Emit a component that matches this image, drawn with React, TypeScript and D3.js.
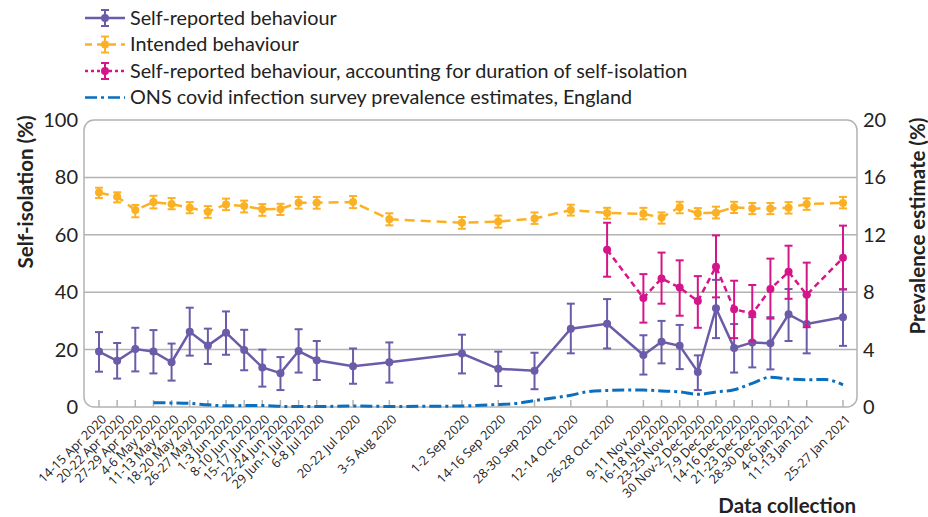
import React from 'react';
import * as d3 from 'd3';

// survey waves (first day of each collection window)
const waveLabels = [
  '14-15 Apr 2020', '20-22 Apr 2020', '27-29 Apr 2020', '4-6 May 2020', '11-13 May 2020',
  '18-20 May 2020', '26-27 May 2020', '1-3 Jun 2020', '8-10 Jun 2020', '15-17 Jun 2020',
  '22-24 Jun 2020', '29 Jun-1 Jul 2020', '6-8 Jul 2020', '20-22 Jul 2020', '3-5 Aug 2020',
  '1-2 Sep 2020', '14-16 Sep 2020', '28-30 Sep 2020', '12-14 Oct 2020', '26-28 Oct 2020',
  '9-11 Nov 2020', '16-18 Nov 2020', '23-25 Nov 2020', '30 Nov-2 Dec 2020', '7-9 Dec 2020',
  '14-16 Dec 2020', '21-23 Dec 2020', '28-30 Dec 2020', '4-6 Jan 2021', '11-13 Jan 2021',
  '25-27 Jan 2021',
];
const waveStart = [
  '2020-04-14', '2020-04-20', '2020-04-27', '2020-05-04', '2020-05-11', '2020-05-18',
  '2020-05-26', '2020-06-01', '2020-06-08', '2020-06-15', '2020-06-22', '2020-06-29',
  '2020-07-06', '2020-07-20', '2020-08-03', '2020-09-01', '2020-09-14', '2020-09-28',
  '2020-10-12', '2020-10-26', '2020-11-09', '2020-11-16', '2020-11-23', '2020-11-30',
  '2020-12-07', '2020-12-14', '2020-12-21', '2020-12-28', '2021-01-04', '2021-01-11',
  '2021-01-25',
];

const selfReported = [19.3, 16.1, 20.2, 19.3, 15.6, 26.2, 21.4, 25.9, 19.9, 13.8, 11.8, 19.5, 16.3, 14.2, 15.6, 18.6, 13.3, 12.6, 27.3, 29.0, 18.1, 22.7, 21.3, 12.2, 34.4, 20.6, 22.5, 22.2, 32.3, 28.9, 31.3];
const selfLow = [12.3, 9.9, 12.4, 11.7, 9.2, 17.9, 15.0, 18.2, 12.8, 7.1, 5.9, 12.0, 9.4, 8.1, 8.5, 11.7, 7.3, 6.2, 18.7, 20.4, 11.3, 15.2, 13.2, 5.9, 24.0, 12.0, 13.8, 13.1, 23.0, 18.7, 21.3];
const selfHigh = [26.1, 22.3, 27.6, 26.8, 22.1, 34.6, 27.3, 33.3, 26.9, 20.0, 17.4, 27.1, 23.0, 20.4, 22.5, 25.2, 19.3, 18.9, 36.0, 37.6, 25.0, 30.0, 28.6, 18.0, 44.3, 28.9, 31.3, 31.3, 41.1, 39.0, 41.0];

const intended = [74.7, 73.3, 68.6, 71.4, 70.7, 69.4, 68.0, 70.6, 70.0, 68.9, 69.0, 71.2, 71.2, 71.4, 65.4, 64.2, 64.6, 65.7, 68.6, 67.6, 67.3, 66.0, 69.6, 67.5, 67.7, 69.6, 69.2, 69.2, 69.4, 70.7, 71.1];
const intendedLow = [72.8, 71.3, 66.1, 69.2, 68.9, 67.5, 65.9, 68.6, 67.8, 66.6, 66.9, 69.1, 69.1, 69.3, 63.3, 62.1, 62.5, 63.8, 66.7, 65.6, 65.4, 63.9, 67.5, 65.6, 65.7, 67.6, 67.2, 67.2, 67.4, 68.7, 69.2];
const intendedHigh = [76.4, 74.8, 70.4, 73.6, 72.8, 71.4, 70.0, 72.6, 71.9, 70.7, 70.8, 73.2, 73.2, 73.5, 67.5, 66.2, 66.7, 67.8, 70.5, 69.4, 69.4, 67.8, 71.5, 69.3, 69.8, 71.5, 71.1, 71.1, 71.4, 72.7, 73.2];

// only measured from late October
const N = null;
const duration = [N, N, N, N, N, N, N, N, N, N, N, N, N, N, N, N, N, N, N, 54.8, 38.0, 44.8, 41.6, 36.9, 48.9, 34.1, 32.5, 41.1, 47.1, 39.1, 52.0];
const durationLow = [N, N, N, N, N, N, N, N, N, N, N, N, N, N, N, N, N, N, N, 45.4, 29.4, 36.0, 31.8, 27.6, 38.2, 24.0, 22.9, 30.8, 37.7, 27.8, 41.0];
const durationHigh = [N, N, N, N, N, N, N, N, N, N, N, N, N, N, N, N, N, N, N, 64.2, 46.3, 53.8, 51.1, 45.6, 59.8, 44.0, 42.5, 51.7, 56.2, 50.3, 63.2];

// ONS prevalence (%), weekly
const onsWeek = [
  '2020-05-04', '2020-05-11', '2020-05-18', '2020-05-25', '2020-06-01', '2020-06-08', '2020-06-15',
  '2020-06-22', '2020-06-29', '2020-07-06', '2020-07-20', '2020-08-03', '2020-08-17', '2020-08-31',
  '2020-09-14', '2020-09-21', '2020-09-28', '2020-10-05', '2020-10-12', '2020-10-19', '2020-10-26',
  '2020-11-02', '2020-11-09', '2020-11-16', '2020-11-23', '2020-11-30', '2020-12-07', '2020-12-14',
  '2020-12-21', '2020-12-28', '2021-01-04', '2021-01-11', '2021-01-18', '2021-01-25',
];
const onsPrevalence = [0.30, 0.28, 0.25, 0.15, 0.08, 0.10, 0.10, 0.05, 0.03, 0.03, 0.07, 0.04, 0.05, 0.07, 0.18, 0.25, 0.45, 0.62, 0.82, 1.08, 1.15, 1.18, 1.18, 1.12, 1.05, 0.88, 1.05, 1.20, 1.65, 2.08, 1.95, 1.90, 1.92, 1.55];

const leftTicks = [0, 20, 40, 60, 80, 100];
const rightTicks = [0, 4, 8, 12, 16, 20];

const PURPLE = '#6b5ba9';
const ORANGE = '#fbb123';
const MAGENTA = '#d5168b';
const BLUE = '#0b6fbd';
const GRID = '#b3b3b3';
const FONT = 'Lato, "Open Sans", sans-serif';

const parse = d3.timeParse('%Y-%m-%d');
const week = (s: string) => d3.timeMonday.floor(parse(s) as Date);

const frame = { left: 84, right: 857, top: 120, bottom: 407 };

const x = d3.scaleTime()
  .domain([week(waveStart[0]), week(waveStart[waveStart.length - 1])])
  .range([99, 843]);
const y = d3.scaleLinear().domain([0, 100]).range([frame.bottom, frame.top]);
const yRight = d3.scaleLinear().domain([0, 20]).range([frame.bottom, frame.top]);

type Series = {
  values: (number | null)[];
  low: (number | null)[];
  high: (number | null)[];
  color: string;
  dash: string;
};

const series: Series[] = [
  { values: intended, low: intendedLow, high: intendedHigh, color: ORANGE, dash: '10 6' },
  { values: selfReported, low: selfLow, high: selfHigh, color: PURPLE, dash: '' },
  { values: duration, low: durationLow, high: durationHigh, color: MAGENTA, dash: '6 4' },
];

const legend = [
  { label: 'Self-reported behaviour', color: PURPLE, dash: '', bar: true },
  { label: 'Intended behaviour', color: ORANGE, dash: '7 5', bar: true },
  { label: 'Self-reported behaviour, accounting for duration of self-isolation', color: MAGENTA, dash: '3 3', bar: true },
  { label: 'ONS covid infection survey prevalence estimates, England', color: BLUE, dash: '12 4 3 4', bar: false },
];

function ErrorBar({ cx, lo, hi, color }: { cx: number; lo: number; hi: number; color: string }) {
  return (
    <g stroke={color} strokeWidth={2}>
      <line x1={cx} x2={cx} y1={lo} y2={hi} />
      <line x1={cx - 4} x2={cx + 4} y1={lo} y2={lo} />
      <line x1={cx - 4} x2={cx + 4} y1={hi} y2={hi} />
    </g>
  );
}

export default function App() {
  const xs = waveStart.map((d) => x(week(d)));

  const line = d3.line<number | null>()
    .defined((d) => d != null)
    .x((_, i) => xs[i])
    .y((d) => y(d as number));

  const onsLine = d3.line<number>()
    .x((_, i) => x(week(onsWeek[i])))
    .y((d) => yRight(d))
    .curve(d3.curveMonotoneX);

  return (
    <svg width={928} height={517} style={{ position: 'absolute', left: 0, top: 0 }} fontFamily={FONT}>
      {/* legend */}
      {legend.map((l, i) => {
        const ly = 18 + i * 26.5;
        return (
          <g key={l.label} transform={`translate(0, ${ly})`}>
            <line x1={85} x2={125} y1={0} y2={0} stroke={l.color} strokeWidth={2.5} strokeDasharray={l.dash} />
            {l.bar && (
              <>
                <ErrorBar cx={105} lo={-8} hi={8} color={l.color} />
                <circle cx={105} cy={0} r={4} fill={l.color} />
              </>
            )}
            <text x={130} y={0} dy="0.35em" fontSize={19.8} fill="#222">{l.label}</text>
          </g>
        );
      })}

      {/* grid + frame */}
      {leftTicks.slice(1, -1).map((t) => (
        <line key={t} x1={frame.left} x2={frame.right} y1={y(t)} y2={y(t)} stroke={GRID} strokeWidth={1.5} />
      ))}
      <rect x={frame.left} y={frame.top} width={frame.right - frame.left} height={frame.bottom - frame.top}
        rx={10} fill="none" stroke={GRID} strokeWidth={1.5} />
      {xs.map((cx, i) => (
        <line key={i} x1={cx} x2={cx} y1={frame.bottom - 7} y2={frame.bottom} stroke={GRID} strokeWidth={1.5} />
      ))}

      {/* axes labels */}
      {leftTicks.map((t) => (
        <text key={t} x={78} y={y(t)} dy="0.35em" textAnchor="end" fontSize={20} fill="#222">{t}</text>
      ))}
      {rightTicks.map((t) => (
        <text key={t} x={863} y={yRight(t)} dy="0.35em" fontSize={20} fill="#222">{t}</text>
      ))}
      <text transform="translate(33, 192) rotate(-90)" textAnchor="middle" fontSize={20.5} fontWeight="bold" fill="#222">
        Self-isolation (%)
      </text>
      <text transform="translate(925, 226) rotate(-90)" textAnchor="middle" fontSize={20.5} fontWeight="bold" fill="#222">
        Prevalence estimate (%)
      </text>
      {waveLabels.map((l, i) => (
        <text key={l} transform={`translate(${xs[i] + 5}, ${frame.bottom + 10}) rotate(-45)`} textAnchor="end"
          dy="0.35em" fontSize={12.7} fontFamily='"Open Sans", sans-serif' fill="#222">{l}</text>
      ))}
      <text x={856} y={513} textAnchor="end" fontSize={20.5} fontWeight="bold" fill="#222">Data collection</text>

      {/* ONS prevalence */}
      <path d={onsLine(onsPrevalence) || ''} fill="none" stroke={BLUE} strokeWidth={3} strokeDasharray="12 4 3 4" />

      {/* survey series */}
      {series.map((s, k) => (
        <g key={k}>
          <path d={line(s.values) || ''} fill="none" stroke={s.color} strokeWidth={2.5} strokeDasharray={s.dash} />
          {s.values.map((v, i) => v == null ? null : (
            <g key={i}>
              <ErrorBar cx={xs[i]} lo={y(s.low[i] as number)} hi={y(s.high[i] as number)} color={s.color} />
              <circle cx={xs[i]} cy={y(v)} r={4} fill={s.color} />
            </g>
          ))}
        </g>
      ))}
    </svg>
  );
}
